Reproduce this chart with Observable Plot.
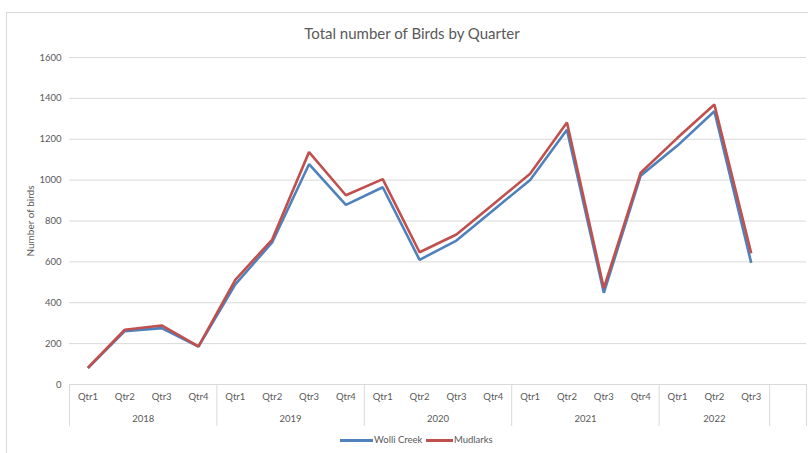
<!DOCTYPE html>
<html>
<head>
<meta charset="utf-8">
<script src="https://cdn.jsdelivr.net/npm/d3@7"></script>
<script src="https://cdn.jsdelivr.net/npm/@observablehq/plot@0.6"></script>
<style>
  html, body { margin: 0; padding: 0; background: #fff; overflow: hidden; }
  body { width: 808px; height: 453px; position: relative; font-family: Lato, "Open Sans", sans-serif; }
  #frame { position: absolute; left: 6px; top: 12px; width: 820px; height: 460px; border: 1px solid #d9d9d9; box-sizing: border-box; }
  #title { position: absolute; left: 8px; width: 808px; text-align: center; font-size: 15px; color: #595959; line-height: 16px; top: 25px; }
  #chart { position: absolute; left: 7px; top: 45px; }
  #legend { position: absolute; left: 0; top: 433px; width: 808px; height: 14px; font-size: 9.5px; color: #595959; line-height: 14px; }
  .sw { position: absolute; top: 6px; height: 3px; }
  .lt { position: absolute; top: 0; }
</style>
</head>
<body>
<div id="frame"></div>
<div id="title">Total number of Birds by Quarter</div>
<div id="chart"></div>
<div id="legend">
  <span class="sw" style="left:340px;width:33px;background:#4f81bd"></span><span class="lt" style="left:374px">Wolli Creek</span>
  <span class="sw" style="left:426px;width:27px;background:#c0504d"></span><span class="lt" style="left:454px">Mudlarks</span>
</div>
<script>
const years = ["2018", "2019", "2020", "2021", "2022"];
const quarterLabels = ["Qtr1", "Qtr2", "Qtr3", "Qtr4"];
const periodYear = ["2018","2018","2018","2018","2019","2019","2019","2019","2020","2020","2020","2020","2021","2021","2021","2021","2022","2022","2022"];
const periodQuarter = ["Qtr1","Qtr2","Qtr3","Qtr4","Qtr1","Qtr2","Qtr3","Qtr4","Qtr1","Qtr2","Qtr3","Qtr4","Qtr1","Qtr2","Qtr3","Qtr4","Qtr1","Qtr2","Qtr3"];
const wolliCreek = [80, 261, 276, 185, 490, 695, 1078, 879, 965, 610, 704, 853, 1001, 1246, 449, 1022, 1169, 1337, 595];
const mudlarks  = [82, 268, 289, 186, 512, 709, 1137, 926, 1005, 647, 734, 882, 1031, 1282, 471, 1036, 1207, 1370, 642];
const yTicks = [0, 200, 400, 600, 800, 1000, 1200, 1400, 1600];

const nSlots = periodYear.length + 1; // one empty category at the end, as in the original
const rows = [];
periodYear.forEach((y, i) => {
  rows.push({i: i + 0.5, series: "Wolli Creek", value: wolliCreek[i]});
});
periodYear.forEach((y, i) => {
  rows.push({i: i + 0.5, series: "Mudlarks", value: mudlarks[i]});
});

// group boundaries and centers
const boundaries = [0];
const yearCenters = [];
years.forEach(yr => {
  const idx = periodYear.map((p, i) => p === yr ? i : -1).filter(i => i >= 0);
  const start = idx[0], end = idx[idx.length - 1] + 1;
  yearCenters.push({pos: (start + end) / 2, label: yr});
  boundaries.push(end);
});
boundaries.push(nSlots);

const qCenters = periodQuarter.map((q, i) => i + 0.5);

const gray = "#595959";
const chart = Plot.plot({
  width: 801,
  height: 388,
  marginLeft: 62,
  marginRight: 2,
  marginTop: 12,
  marginBottom: 49,
  style: {fontFamily: "Lato, 'Open Sans', sans-serif", fontSize: "9.5px", color: gray, background: "#fff"},
  x: {domain: [0, nSlots]},
  y: {domain: [0, 1600]},
  color: {domain: ["Wolli Creek", "Mudlarks"], range: ["#4f81bd", "#c0504d"]},
  marks: [
    Plot.gridY(yTicks, {stroke: "#d9d9d9", strokeOpacity: 1, strokeWidth: 1}),
    Plot.axisY(yTicks, {tickSize: 0, tickPadding: 8, label: null, tickFormat: d => String(d), fill: gray}),
    Plot.text(["Number of birds"], {frameAnchor: "left", dx: -39, rotate: -90, fill: gray, fontSize: 10, textAnchor: "middle"}),
    Plot.ruleY([0], {stroke: "#d9d9d9", strokeWidth: 1}),
    Plot.axisX(boundaries, {tickSize: 42, tickFormat: () => "", stroke: "#d9d9d9", strokeOpacity: 1, label: null}),
    Plot.axisX(qCenters, {tickSize: 0, tickPadding: 9, tickFormat: (d) => periodQuarter[Math.floor(d)], fill: gray, label: null}),
    Plot.axisX(yearCenters.map(d => d.pos), {tickSize: 0, tickPadding: 31, tickFormat: (d) => yearCenters.find(c => c.pos === d).label, fill: gray, label: null}),
    Plot.line(rows, {x: "i", y: "value", z: "series", stroke: "series", strokeWidth: 2.6, strokeLinejoin: "miter", strokeLinecap: "butt"})
  ]
});
document.getElementById("chart").appendChild(chart);
</script>
</body>
</html>
